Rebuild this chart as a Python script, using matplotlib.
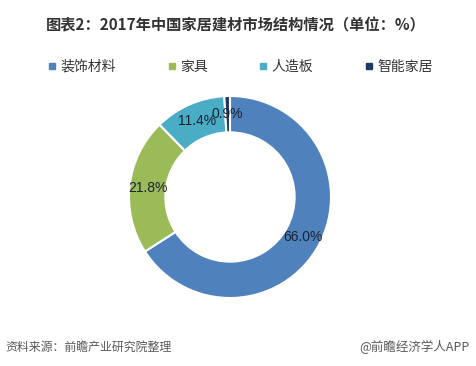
import matplotlib.pyplot as plt
from matplotlib.lines import Line2D

plt.rcParams['font.family'] = ['Noto Sans CJK SC', 'DejaVu Sans']

# data
categories = ['装饰材料', '家具', '人造板', '智能家居']
shares = [66.0, 21.8, 11.4, 0.9]
colors = ['#4F81BD', '#9BBB59', '#4BACC6', '#1F3864']

W, H = 476, 366
fig = plt.figure(figsize=(W / 100, H / 100), dpi=100)
fig.patch.set_facecolor('white')

# donut centred at about (230, 197) px, radius ~101 px
cx, cy, r = 230, 197, 101
ax = fig.add_axes([(cx - r) / W, 1 - (cy + r) / H, 2 * r / W, 2 * r / H])
# shares add up to 100.1, so print the given values rather than autopct's normalised ones
share_iter = iter(shares)
wedges, texts, autotexts = ax.pie(
    shares, colors=colors, startangle=90, counterclock=False,
    autopct=lambda p: '%.1f%%' % next(share_iter), pctdistance=0.82, radius=1,
    wedgeprops=dict(width=0.36, edgecolor='white', linewidth=1.5),
    textprops=dict(family='Liberation Sans', fontsize=10, color='#1a2333'))
ax.set_xlim(-1, 1)
ax.set_ylim(-1, 1)
ax.set_aspect('equal')

# title
fig.text(236 / W, 1 - 25 / H, '图表2：2017年中国家居建材市场结构情况（单位：%）',
         ha='center', va='center', fontsize=11, fontweight='bold', color='#333333')

# legend
handles = [Line2D([], [], marker='s', linestyle='', markersize=4,
                  markerfacecolor=c, markeredgecolor=c) for c in colors]
fig.legend(handles, categories, loc='center left', bbox_to_anchor=(48 / W, 1 - 67 / H),
           ncol=4, frameon=False, fontsize=10, handlelength=0.6, handletextpad=0.3,
           columnspacing=3.7, labelcolor='#333333', borderaxespad=0, borderpad=0)

# footer
fig.text(5 / W, 1 - 347 / H, '资料来源：前瞻产业研究院整理', ha='left', va='center',
         fontsize=8.6, style='italic', color='#595959')
fig.text(470 / W, 1 - 347 / H, '@前瞻经济学人APP', ha='right', va='center',
         fontsize=9, color='#595959')

fig.savefig('out.png', dpi=100)
